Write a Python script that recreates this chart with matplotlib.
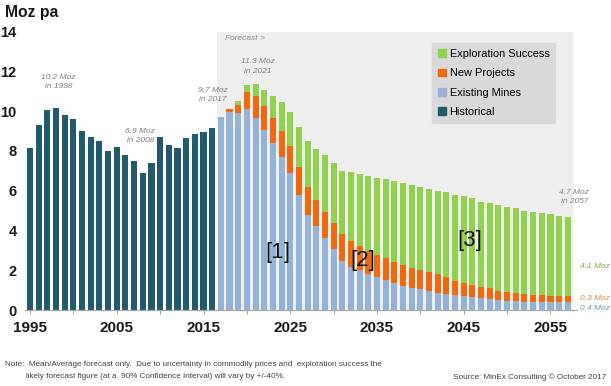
import matplotlib
matplotlib.use("Agg")
import matplotlib.pyplot as plt
from matplotlib.patches import Patch, Rectangle

plt.rcParams["font.family"] = ["Liberation Sans", "DejaVu Sans"]

# historical production, Moz pa
hist_years = list(range(1995, 2017))
hist_vals = [8.13, 9.29, 10.06, 10.16, 9.81, 9.61, 9.02, 8.69, 8.48, 8.00, 8.20,
             7.78, 7.48, 6.87, 7.41, 8.69, 8.27, 8.12, 8.65, 8.85, 8.94, 9.16]

# forecast 2017-2057, split by source
fc_years = list(range(2017, 2058))
existing_mines = [9.70, 9.95, 9.90, 10.10, 9.65, 9.06, 8.39, 7.69, 6.88, 5.79,
                  4.78, 4.20, 3.61, 3.06, 2.48, 2.18, 2.01, 1.81, 1.65, 1.51,
                  1.34, 1.22, 1.12, 1.04, 0.96, 0.87, 0.81, 0.76, 0.70, 0.64,
                  0.59, 0.54, 0.50, 0.47, 0.44, 0.42, 0.41, 0.40, 0.40, 0.40, 0.40]
new_projects = [0.00, 0.15, 0.42, 0.84, 1.12, 1.21, 1.24, 1.32, 1.34, 1.38,
                1.40, 1.34, 1.34, 1.30, 1.32, 1.28, 1.20, 1.14, 1.11, 1.09,
                1.06, 1.05, 1.01, 0.97, 0.94, 0.93, 0.83, 0.70, 0.64, 0.62,
                0.58, 0.55, 0.47, 0.45, 0.40, 0.39, 0.35, 0.33, 0.31, 0.30, 0.30]
exploration = [0.00, 0.00, 0.19, 0.36, 0.58, 0.81, 1.14, 1.43, 1.72, 2.01,
               2.33, 2.57, 2.85, 3.04, 3.20, 3.47, 3.62, 3.80, 3.90, 3.98,
               4.06, 4.11, 4.15, 4.15, 4.18, 4.19, 4.27, 4.33, 4.37, 4.35,
               4.28, 4.31, 4.32, 4.28, 4.28, 4.19, 4.17, 4.14, 4.11, 4.05, 4.00]

tick_years = list(range(1995, 2060, 5))
label_years = list(range(1995, 2060, 10))

c_hist = "#215a6c"
c_exist = "#95b3d7"
c_new = "#f0690f"
c_expl = "#92d050"
w = 0.7

fig = plt.figure(figsize=(6.11, 3.86), dpi=100)
ax = fig.add_axes([25 / 611, 76 / 386, 551.5 / 611, 278.5 / 386])

# forecast shaded area
ax.add_patch(Rectangle((2016.55, 0), 41.1, 13.95, facecolor="#eeeeee",
                       edgecolor="none", zorder=0))

ax.bar(hist_years, hist_vals, width=w, color=c_hist, zorder=2)
ax.bar(fc_years, existing_mines, width=w, color=c_exist, zorder=2)
bottom2 = [a + b for a, b in zip(existing_mines, new_projects)]
ax.bar(fc_years, new_projects, width=w, bottom=existing_mines, color=c_new, zorder=2)
ax.bar(fc_years, exploration, width=w, bottom=bottom2, color=c_expl, zorder=2)

ax.set_xlim(1994.42, 2058.0)
ax.set_ylim(0, 14)
ax.set_yticks(range(0, 15, 2))
ax.set_xticks(tick_years)
ax.set_xticklabels([str(y) if y in label_years else "" for y in tick_years])
for s in ["top", "right", "left"]:
    ax.spines[s].set_visible(False)
ax.spines["bottom"].set_color("#a6a6a6")
ax.tick_params(axis="y", length=0, pad=6, labelsize=10.5)
ax.tick_params(axis="x", length=3, color="#a6a6a6", pad=5, labelsize=11)
for lab in ax.get_xticklabels() + ax.get_yticklabels():
    lab.set_fontweight("bold")
    lab.set_color("#1a1a1a")
ax.set_facecolor("white")

ann = dict(color="#7f7f7f", style="italic", fontsize=6.0, ha="center",
           va="center", linespacing=1.5)
ax.text(1998.3, 11.45, "10.2 Moz\nin 1998", **ann)
ax.text(2007.7, 8.75, "6.9 Moz\nin 2008", **ann)
ax.text(2016.1, 10.8, "9.7 Moz\nin 2017", **ann)
ax.text(2021.3, 12.25, "11.3 Moz\nin 2021", **ann)
ax.text(2057.75, 5.68, "4.7 Moz\nin 2057", **ann)
ax.text(2017.5, 13.65, "Forecast >", color="#8c8c8c", style="italic",
        fontsize=6.0, ha="left", va="center")
ax.text(2058.4, 2.17, "4.1 Moz", color="#7aa33a", style="italic", fontsize=6.0,
        ha="left", va="center", clip_on=False)
ax.text(2058.4, 0.56, "0.3 Moz", color="#e8873a", style="italic", fontsize=6.0,
        ha="left", va="center", clip_on=False)
ax.text(2058.4, 0.1, "0.4 Moz", color="#6a93b8", style="italic", fontsize=6.0,
        ha="left", va="center", clip_on=False)

for x, y, s in [(2023.6, 2.9, "[1]"), (2033.4, 2.5, "[2]"), (2045.75, 3.5, "[3]")]:
    ax.text(x, y, s, fontsize=16, ha="center", va="center", color="#111111", zorder=3)

handles = [Patch(color=c_expl, label="Exploration Success"),
           Patch(color=c_new, label="New Projects"),
           Patch(color=c_exist, label="Existing Mines"),
           Patch(color=c_hist, label="Historical")]
leg = fig.legend(handles=handles, loc="upper left", bbox_to_anchor=(432 / 611, 1 - 43 / 386),
                 frameon=True, fancybox=False, facecolor="#d9d9d9", edgecolor="#d9d9d9",
                 framealpha=1, fontsize=7.9, handlelength=0.7, handleheight=0.7,
                 handletextpad=0.35, labelspacing=0.85, borderpad=0.55,
                 borderaxespad=0)

fig.text(5 / 611, 1 - 12 / 386, "Moz pa", fontsize=11.3, fontweight="bold",
         ha="left", va="center", color="#1a1a1a")

note_kw = dict(fontsize=5.85, color="#404040", va="center")
fig.text(5 / 611, 1 - 364 / 386,
         "Note:  Mean/Average forecast only.  Due to uncertainty in commodity prices and  exploration success the",
         ha="left", **note_kw)
fig.text(26 / 611, 1 - 377 / 386,
         "likely forecast figure (at a  90% Confidence Interval) will vary by +/-40%.",
         ha="left", **note_kw)
fig.text(606 / 611, 1 - 377 / 386, "Source: MinEx Consulting \u00a9 October 2017",
         ha="right", **note_kw)

fig.savefig("out.png", dpi=100)
